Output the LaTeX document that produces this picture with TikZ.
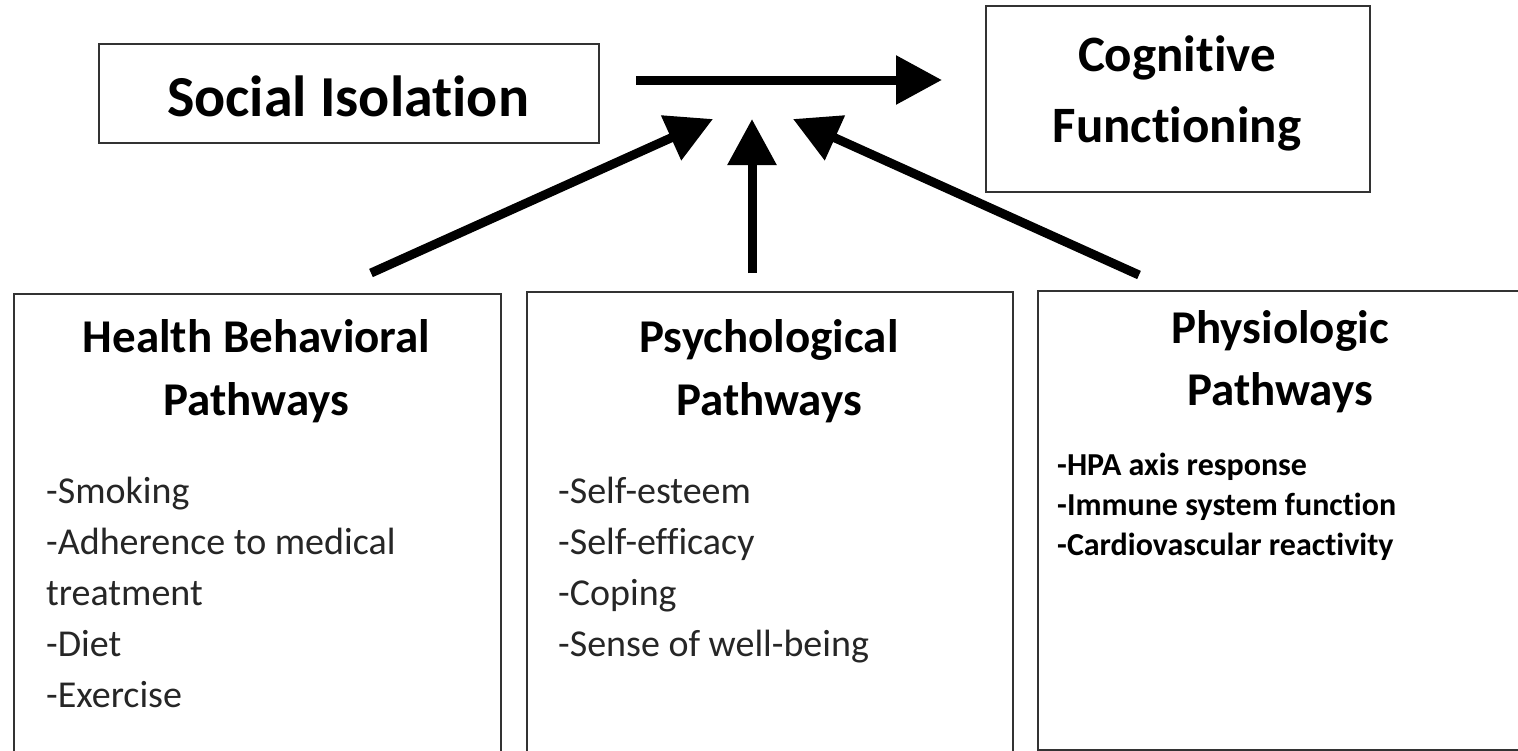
\documentclass[tikz,border=0pt]{standalone}
\usepackage{fontspec}
\setmainfont{Carlito}[Ligatures={NoCommon}]
\usetikzlibrary{arrows.meta}
\begin{document}
\begin{tikzpicture}[x=1pt,y=-1pt,
  box/.style={draw=black!80, line width=1.5pt, inner sep=0pt, anchor=north west},
  bigarrow/.style={line width=9pt, -{Triangle[length=46pt,width=47pt]}},
  head/.style={font=\fontsize{47}{47}\selectfont\bfseries, anchor=base, inner sep=0pt},
  item/.style={font=\fontsize{38}{38}\selectfont, anchor=base west, inner sep=0pt, text=black!85},
  bitem/.style={font=\fontsize{32}{32}\selectfont\bfseries, anchor=base west, inner sep=0pt}]
\useasboundingbox (0,0) rectangle (1518,750);
\fill[white] (0,0) rectangle (1518,750);

% top boxes
\node[box, minimum width=500pt, minimum height=99pt] (si) at (98,43) {};
\node[font=\fontsize{58}{58}\selectfont\bfseries, anchor=base, inner sep=0pt] (sit) at (348,116) {Social Isolation};

\node[box, minimum width=384pt, minimum height=186pt] (cf) at (985,5) {};
\node[font=\fontsize{51}{51}\selectfont\bfseries, anchor=base, inner sep=0pt] (cft1) at (1177,71) {Cognitive};
\node[font=\fontsize{51}{51}\selectfont\bfseries, anchor=base, inner sep=0pt] (cft2) at (1177,142) {Functioning};

% bottom boxes
\node[box, minimum width=487pt, minimum height=480pt] (hb) at (13,293) {};
\node[head] (hbh1) at (256.5,352) {Health Behavioral};
\node[head] (hbh2) at (256.5,415) {Pathways};
\node[item] (hb1) at (46,503) {-Smoking};
\node[item] (hb2) at (46,554) {-Adherence to medical};
\node[item] (hb3) at (46,605) {treatment};
\node[item] (hb4) at (46,656) {-Diet};
\node[item] (hb5) at (46,707) {-Exercise};

\node[box, minimum width=486pt, minimum height=480pt] (ps) at (526,291) {};
\node[head] (psh1) at (769,352) {Psychological};
\node[head] (psh2) at (769,415) {Pathways};
\node[item] (ps1) at (558,503) {-Self-esteem};
\node[item] (ps2) at (558,554) {-Self-efficacy};
\node[item] (ps3) at (558,605) {-Coping};
\node[item] (ps4) at (558,656) {-Sense of well-being};

\node[box, minimum width=485pt, minimum height=459pt] (ph) at (1037,290) {};
\node[head] (phh1) at (1280,343) {Physiologic};
\node[head] (phh2) at (1280,405) {Pathways};
\node[bitem] (ph1) at (1057,475) {-HPA axis response};
\node[bitem] (ph2) at (1057,515) {-Immune system function};
\node[bitem] (ph3) at (1057,555) {-Cardiovascular reactivity};

% arrows
\coordinate (h1) at (636,80);
\coordinate (h2) at (942,80);
\coordinate (l1) at (371,273);
\coordinate (l2) at (713,119);
\coordinate (v1) at (752,273);
\coordinate (v2) at (752,119);
\coordinate (r1) at (1139,275);
\coordinate (r2) at (793,119);

\draw[bigarrow] (h1) -- (h2);
\draw[bigarrow] (l1) -- (l2);
\draw[bigarrow] (v1) -- (v2);
\draw[bigarrow] (r1) -- (r2);
\end{tikzpicture}
\end{document}
